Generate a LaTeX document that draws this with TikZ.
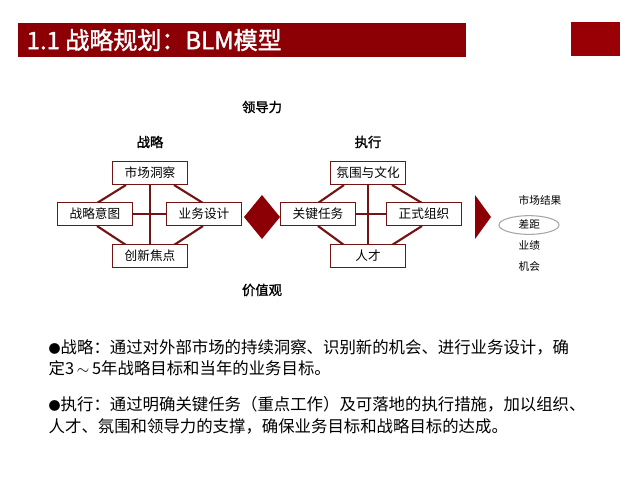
\documentclass[tikz,border=0pt]{standalone}
\usepackage{fontspec}
\setmainfont{Noto Sans CJK SC}
\newfontfamily\cjkb[FakeBold=1.5]{Noto Sans CJK SC}
\usetikzlibrary{positioning}
\usetikzlibrary{shapes.geometric}
\definecolor{darkred}{rgb}{0.55,0.0,0.02}
\definecolor{boxred}{rgb}{0.45,0.08,0.08}

\tikzset{
	blmbox/.style={draw=boxred,line width=1.2pt,fill=white,minimum width=56pt,minimum height=17pt,inner sep=0pt,font=\fontsize{9.5}{10}\selectfont},
	title/.style={font=\cjkb\fontsize{10}{11}\selectfont},
	link/.style={boxred,line width=1.6pt}
}

\begin{document}
\begin{tikzpicture}[x=0.75pt,y=-0.75pt]
	\useasboundingbox (0,0) rectangle (640,480);
	
	% header
	\fill [darkred] (18,23) rectangle (466,57);
	\fill [darkred!90!red] (571,22) rectangle (620,56);
	\node [anchor=west,white,font=\cjkb\fontsize{18}{20}\selectfont] (Head) at (22,40) {1.1 战略规划：BLM模型};
	
	% titles
	\node [title] (Lead) at (262,107) {领导力};
	\node [title] (Strat) at (150,142) {战略};
	\node [title] (Exec) at (368,142) {执行};
	\node [title] (Value) at (262,290) {价值观};
	
	% strategy
	\draw [link] (150,173)--(150,256) (95,214)--(204,214);
	\draw [link] (126,185)--(97,203) (174,185)--(203,203)
		(97,226)--(126,245) (203,226)--(174,245);
	\node [blmbox] (Insight) at (150,173) {市场洞察};
	\node [blmbox] (Intent) at (95,214) {战略意图};
	\node [blmbox] (Design) at (204,214) {业务设计};
	\node [blmbox] (Innov) at (150,256) {创新焦点};
	
	% execution
	\draw [link] (368,173)--(368,256) (318,214)--(424,214);
	\draw [link] (344,185)--(318,203) (392,185)--(422,203)
		(318,226)--(344,245) (422,226)--(392,245);
	\node [blmbox] (Climate) at (368,173) {氛围与文化};
	\node [blmbox] (Task) at (318,214) {关键任务};
	\node [blmbox] (Org) at (424,214) {正式组织};
	\node [blmbox] (Talent) at (368,256) {人才};
	
	% diamond and arrow
	\fill [darkred] (244,217)--(262,195)--(280,217)--(262,239)--cycle;
	\fill [darkred] (475,195)--(491,217)--(475,239)--cycle;
	
	% results
	\node [font=\fontsize{8}{9}\selectfont,anchor=west] (Market) at (514,200) {市场结果};
	\node [draw=gray!70,line width=0.8pt,ellipse,minimum width=45pt,minimum height=14pt,inner sep=0pt] (Gap) at (529,225) {};
	\node [font=\fontsize{8}{9}\selectfont,anchor=west] (GapT) at (514,224) {差距};
	\node [font=\fontsize{8}{9}\selectfont,anchor=west] (Perf) at (514,245) {业绩};
	\node [font=\fontsize{8}{9}\selectfont,anchor=west] (Chance) at (514,266) {机会};
	
	% notes
	\node [anchor=north west,align=left,font=\fontsize{12.3}{16}\selectfont] (Note1) at (44,335) {{\small●}战略：通过对外部市场的持续洞察、识别新的机会、进行业务设计，确\\定3\,$\sim$\,5年战略目标和当年的业务目标。};
	\node [anchor=north west,align=left,font=\fontsize{12.3}{16}\selectfont] (Note2) at (44,392) {{\small●}执行：通过明确关键任务（重点工作）及可落地的执行措施，加以组织、\\人才、氛围和领导力的支撑，确保业务目标和战略目标的达成。};
\end{tikzpicture}
\end{document}
